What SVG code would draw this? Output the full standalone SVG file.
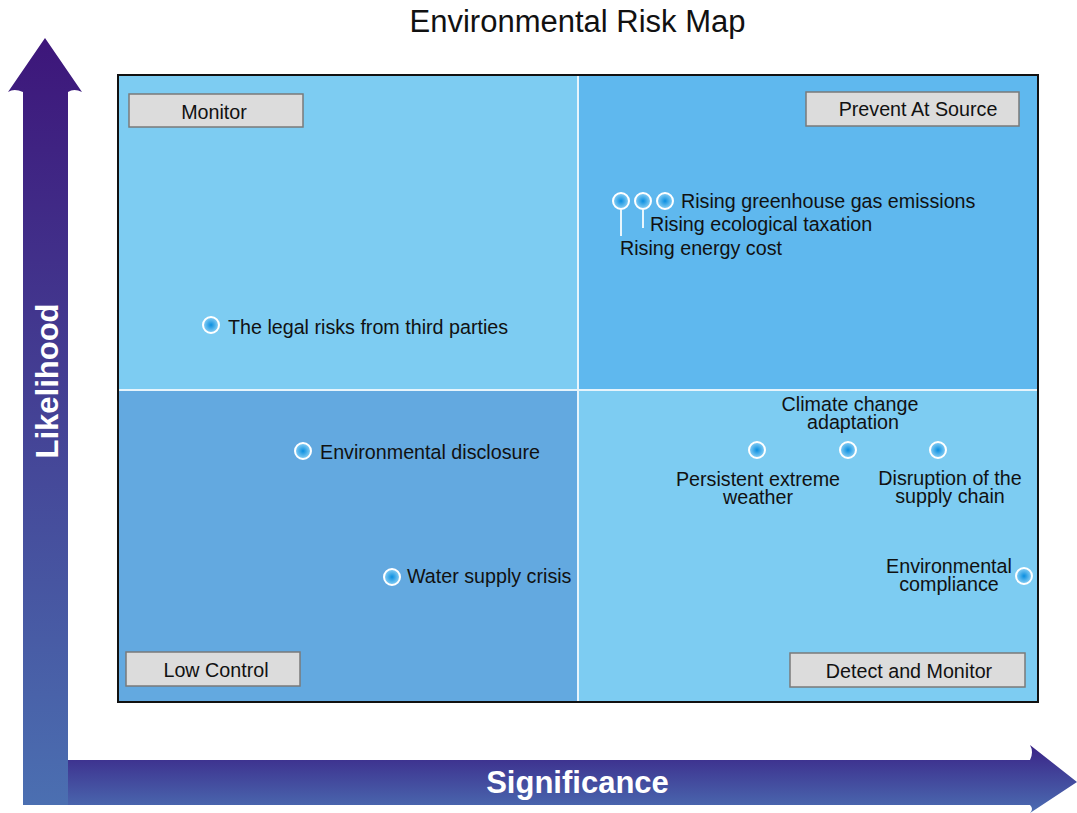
<svg xmlns="http://www.w3.org/2000/svg" width="1077" height="813" viewBox="0 0 1077 813">
<defs>
<linearGradient id="gv" x1="0" y1="0" x2="0" y2="1">
<stop offset="0" stop-color="#3d167a"/>
<stop offset="1" stop-color="#4b6fb1"/>
</linearGradient>
<linearGradient id="gh" x1="0" y1="0" x2="0" y2="1">
<stop offset="0" stop-color="#3a2386"/>
<stop offset="1" stop-color="#4b6db2"/>
</linearGradient>
<radialGradient id="dot">
<stop offset="0" stop-color="#0a8ee0"/>
<stop offset="1" stop-color="#8ed2f6"/>
</radialGradient>
<style>
text{font-family:"Liberation Sans",Arial,sans-serif;fill:#111;}
.lbl{font-size:19.7px;}
.box rect{fill:#dcdcdc;stroke:#7a7a7a;stroke-width:1.5;}
.box text{font-size:19.7px;text-anchor:middle;}
.d{fill:url(#dot);stroke:#fff;stroke-width:2;}
.c{text-anchor:middle;}
.stem{stroke:#e8f6fd;stroke-width:2;}
</style>
</defs>
<rect width="1077" height="813" fill="#fff"/>
<text x="577.5" y="32" font-size="31" text-anchor="middle">Environmental Risk Map</text>
<g id="quadrants">
<rect x="118" y="75" width="460" height="315" fill="#7dccf2"/>
<rect x="578" y="75" width="460" height="315" fill="#5fb8ee"/>
<rect x="118" y="390" width="460" height="312" fill="#63a9e0"/>
<rect x="578" y="390" width="460" height="312" fill="#7dccf2"/>
<line x1="578" y1="75" x2="578" y2="702" stroke="#e6f4fc" stroke-width="2"/>
<line x1="118" y1="390" x2="1038" y2="390" stroke="#e6f4fc" stroke-width="2"/>
<rect x="118" y="75" width="920" height="627" fill="none" stroke="#111" stroke-width="2"/>
</g>
<g id="axis-y">
<path d="M23,805 L23,92 Q14,88 8,92 L45,38 L82,92 Q74,88 68,92 L68,805 Z" fill="url(#gv)"/>
<text x="0" y="0" transform="translate(58,381) rotate(-90)" font-size="31" font-weight="bold" text-anchor="middle" style="fill:#fff">Likelihood</text>
</g>
<g id="axis-x">
<path d="M68,760 L1030,760 Q1034,752 1030,745 L1077,782 L1030,813 Q1034,809 1030,805 L68,805 Z" fill="url(#gh)"/>
<text x="577.5" y="793" font-size="31" font-weight="bold" text-anchor="middle" style="fill:#fff">Significance</text>
</g>
<g id="box-monitor" class="box"><rect x="129" y="94" width="174" height="33"/><text x="214" y="119">Monitor</text></g>
<g id="box-prevent" class="box"><rect x="806" y="92" width="213" height="34"/><text x="918" y="116">Prevent At Source</text></g>
<g id="box-low" class="box"><rect x="126" y="652" width="174" height="34"/><text x="216" y="677">Low Control</text></g>
<g id="box-detect" class="box"><rect x="790" y="653" width="235" height="34"/><text x="909" y="678">Detect and Monitor</text></g>
<g id="connectors">
<line class="stem" x1="621" y1="210" x2="621" y2="236"/>
<line class="stem" x1="643" y1="210" x2="643" y2="228"/>
</g>
<g id="n-energy"><circle class="d" cx="621" cy="201" r="8"/><text class="lbl" x="620" y="255">Rising energy cost</text></g>
<g id="n-tax"><circle class="d" cx="643" cy="201" r="8"/><text class="lbl" x="650" y="231">Rising ecological taxation</text></g>
<g id="n-ghg"><circle class="d" cx="665" cy="201" r="8"/><text class="lbl" x="681" y="208">Rising greenhouse gas emissions</text></g>
<g id="n-legal"><circle class="d" cx="211" cy="325" r="8"/><text class="lbl" x="228" y="334">The legal risks from third parties</text></g>
<g id="n-disclosure"><circle class="d" cx="303" cy="451" r="8"/><text class="lbl" x="320" y="459">Environmental disclosure</text></g>
<g id="n-water"><circle class="d" cx="392" cy="577" r="8"/><text class="lbl" x="407" y="583">Water supply crisis</text></g>
<g id="n-climate"><circle class="d" cx="848" cy="450" r="8"/><text class="lbl c" x="850" y="411">Climate change</text><text class="lbl c" x="853" y="429">adaptation</text></g>
<g id="n-weather"><circle class="d" cx="757" cy="450" r="8"/><text class="lbl c" x="758" y="486">Persistent extreme</text><text class="lbl c" x="758" y="504">weather</text></g>
<g id="n-supply"><circle class="d" cx="938" cy="450" r="8"/><text class="lbl c" x="950" y="485">Disruption of the</text><text class="lbl c" x="950" y="503">supply chain</text></g>
<g id="n-compliance"><circle class="d" cx="1024" cy="576" r="8"/><text class="lbl c" x="949" y="573">Environmental</text><text class="lbl c" x="949" y="591">compliance</text></g>
</svg>
